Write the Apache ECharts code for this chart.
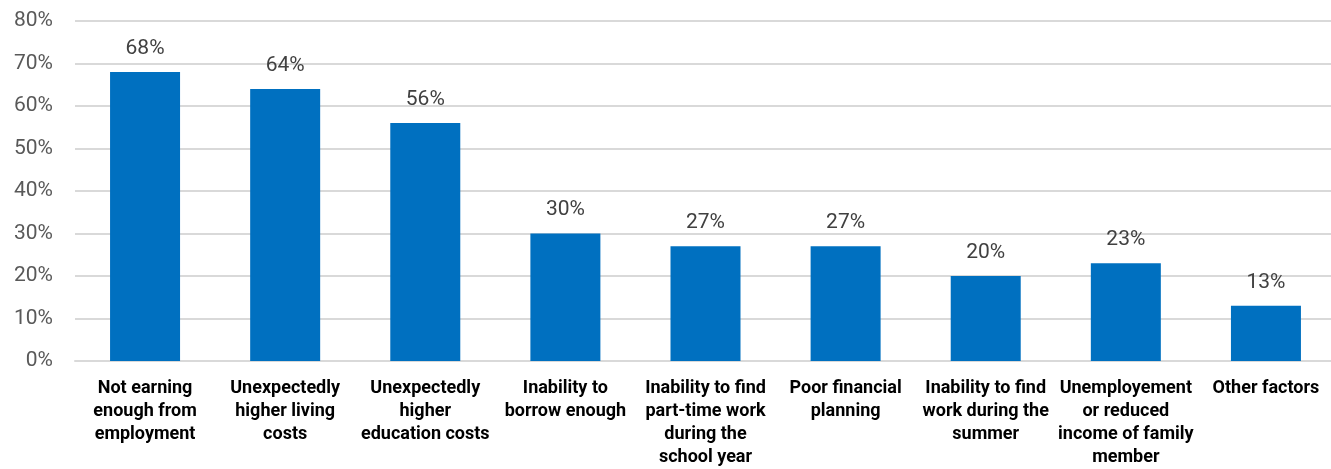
<!DOCTYPE html>
<html>
<head>
<meta charset="utf-8">
<script src="https://cdn.jsdelivr.net/npm/echarts@6/dist/echarts.min.js"></script>
<style>
  html, body { margin: 0; padding: 0; background: #fff; overflow: hidden; }
  #chart { width: 1336px; height: 469px; }
</style>
</head>
<body>
<div id="chart"></div>
<script>
const categories = [
  "Not earning\nenough from\nemployment",
  "Unexpectedly\nhigher living\ncosts",
  "Unexpectedly\nhigher\neducation costs",
  "Inability to\nborrow enough",
  "Inability to find\npart-time work\nduring the\nschool year",
  "Poor financial\nplanning",
  "Inability to find\nwork during the\nsummer",
  "Unemployement\nor reduced\nincome of family\nmember",
  "Other factors"
];
const values = [68, 64, 56, 30, 27, 27, 20, 23, 13];

const font = "Roboto, sans-serif";
const chart = echarts.init(document.getElementById("chart"), null, { renderer: "canvas" });

chart.setOption({
  animation: false,
  textStyle: { fontFamily: font },
  grid: { left: 75, right: 0, top: 21, bottom: 107, containLabel: false },
  xAxis: {
    type: "category",
    data: categories,
    axisTick: { show: false },
    axisLine: { show: true, lineStyle: { color: "#D9D9D9", width: 2 } },
    axisLabel: {
      interval: 0,
      margin: 16,
      color: "#000",
      fontWeight: "bold",
      fontSize: 18,
      lineHeight: 23,
      fontFamily: font
    }
  },
  yAxis: {
    type: "value",
    min: 0,
    max: 80,
    interval: 10,
    axisLine: { show: false },
    axisTick: { show: false },
    splitLine: { lineStyle: { color: "#D9D9D9", width: 2 } },
    axisLabel: {
      formatter: "{value}%",
      color: "#595959",
      fontSize: 21,
      margin: 22,
      fontFamily: font
    }
  },
  series: [{
    type: "bar",
    data: values,
    barWidth: 70,
    itemStyle: { color: "#0070C0" },
    label: {
      show: true,
      position: "top",
      distance: 13,
      formatter: "{c}%",
      color: "#404040",
      fontSize: 21,
      fontFamily: font
    }
  }]
});
</script>
</body>
</html>
